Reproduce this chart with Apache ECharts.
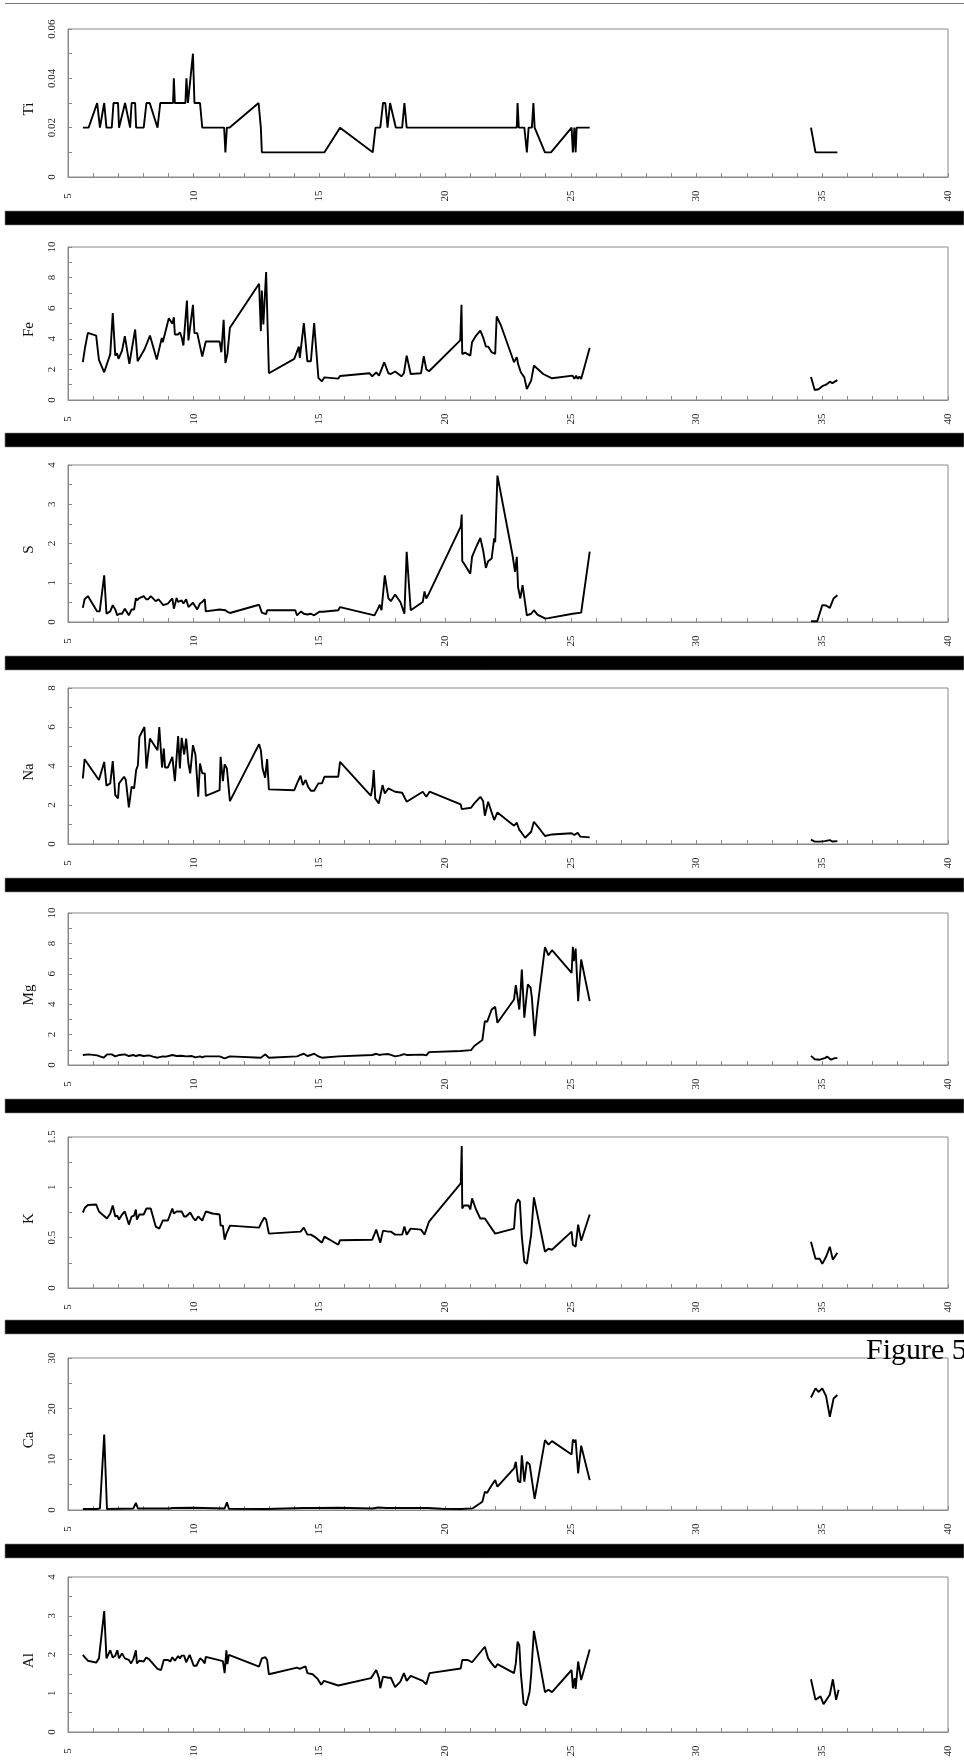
<!DOCTYPE html>
<html>
<head>
<meta charset="utf-8">
<script src="https://cdn.jsdelivr.net/npm/echarts@6/dist/echarts.min.js"></script>
<style>
  html, body { margin: 0; padding: 0; background: #fff; }
  #chart { width: 964px; height: 1764px; }
</style>
</head>
<body>
<div id="chart"></div>
<script>
// Element concentration profiles against depth: [depth, value]
// The upper section runs ~5.6–25.8, the deep section ~34.5–35.6.

const ti = [[5.59,0.02],[5.82,0.02],[6.16,0.03],[6.27,0.02],[6.44,0.03],[6.53,0.02],[6.74,0.02],[6.81,0.03],[6.99,0.03],[7.03,0.02],[7.27,0.03],[7.47,0.02],[7.53,0.03],[7.67,0.03],[7.71,0.02],[8.01,0.02],[8.12,0.03],[8.25,0.03],[8.56,0.02],[8.67,0.03],[9.18,0.03],[9.21,0.04],[9.25,0.03],[9.67,0.03],[9.71,0.04],[9.77,0.03],[9.97,0.05],[10.03,0.03],[10.25,0.03],[10.34,0.02],[11.21,0.02],[11.26,0.01],[11.32,0.02],[11.42,0.02],[12.58,0.03],[12.63,0.03],[12.67,0.02],[12.71,0.01],[15.2,0.01],[15.82,0.02],[17.12,0.01],[17.19,0.01],[17.23,0.02],[17.42,0.02],[17.53,0.03],[17.62,0.03],[17.71,0.02],[17.81,0.03],[18.04,0.02],[18.29,0.02],[18.38,0.03],[18.47,0.02],[22.85,0.02],[22.88,0.03],[22.93,0.02],[23.15,0.02],[23.25,0.01],[23.32,0.02],[23.45,0.02],[23.51,0.03],[23.56,0.02],[23.97,0.01],[24.21,0.01],[25.03,0.02],[25.08,0.01],[25.14,0.02],[25.19,0.01],[25.23,0.02],[25.75,0.02]];
const tiDeep = [[34.55,0.02],[34.73,0.01],[35.6,0.01]];

const fe = [[5.59,2.47],[5.68,3.45],[5.79,4.39],[6.12,4.21],[6.23,2.62],[6.44,1.81],[6.68,3.0],[6.78,5.68],[6.88,2.9],[6.95,3.06],[7.01,2.69],[7.15,3.23],[7.26,4.17],[7.44,2.36],[7.51,2.36],[7.67,4.61],[7.77,2.53],[7.84,2.58],[8.04,3.3],[8.11,3.3],[8.26,4.21],[8.53,2.64],[8.73,4.06],[8.77,3.78],[9.01,5.35],[9.15,4.98],[9.21,5.41],[9.25,4.28],[9.38,4.28],[9.45,4.43],[9.52,4.1],[9.59,3.56],[9.66,3.56],[9.73,6.5],[9.79,3.89],[9.86,3.89],[9.97,6.22],[10.03,4.37],[10.14,4.37],[10.21,4.43],[10.34,2.84],[10.48,3.82],[11.03,3.82],[11.1,3.12],[11.19,5.24],[11.26,2.42],[11.34,3.01],[11.44,4.72],[12.6,7.6],[12.67,4.5],[12.71,7.16],[12.77,4.93],[12.88,8.36],[12.99,1.75],[14.0,2.69],[14.18,3.49],[14.22,2.75],[14.38,5.02],[14.52,2.53],[14.66,2.53],[14.79,5.02],[14.96,1.44],[15.1,1.22],[15.2,1.48],[15.75,1.4],[15.82,1.57],[16.99,1.75],[17.1,1.55],[17.26,1.81],[17.37,1.59],[17.58,2.47],[17.74,1.75],[17.84,1.7],[18.01,1.86],[18.26,1.55],[18.36,1.75],[18.47,2.9],[18.63,1.7],[19.04,1.75],[19.15,2.86],[19.25,2.01],[19.36,1.88],[20.6,3.9],[20.65,6.22],[20.68,3.0],[20.79,3.1],[21.0,2.9],[21.07,3.78],[21.23,4.21],[21.4,4.54],[21.51,4.1],[21.62,3.49],[21.71,3.49],[21.85,3.12],[21.99,3.01],[22.05,5.46],[22.22,4.87],[22.74,2.47],[22.85,2.8],[22.9,2.36],[23.01,1.81],[23.08,1.88],[23.15,1.48],[23.25,0.72],[23.42,1.27],[23.53,2.25],[23.9,1.7],[24.25,1.42],[25.07,1.59],[25.14,1.38],[25.21,1.59],[25.27,1.38],[25.34,1.53],[25.41,1.38],[25.75,3.41]];
const feDeep = [[34.55,1.5],[34.7,0.65],[34.85,0.7],[35.0,0.9],[35.15,1.0],[35.3,1.2],[35.4,1.1],[35.6,1.3]];

const s = [[5.59,0.36],[5.66,0.58],[5.79,0.66],[6.16,0.27],[6.26,0.27],[6.44,1.19],[6.53,0.21],[6.68,0.27],[6.78,0.43],[6.88,0.32],[6.96,0.17],[7.05,0.21],[7.15,0.21],[7.26,0.34],[7.42,0.17],[7.53,0.32],[7.63,0.32],[7.7,0.61],[7.74,0.55],[7.84,0.61],[8.01,0.66],[8.11,0.58],[8.19,0.58],[8.29,0.66],[8.49,0.53],[8.6,0.58],[8.79,0.43],[8.97,0.47],[9.15,0.6],[9.21,0.34],[9.32,0.61],[9.38,0.51],[9.52,0.55],[9.59,0.47],[9.7,0.58],[9.79,0.38],[9.97,0.49],[10.14,0.32],[10.25,0.47],[10.34,0.51],[10.44,0.58],[10.48,0.27],[11.03,0.32],[11.1,0.27],[11.26,0.3],[11.34,0.26],[11.44,0.23],[12.6,0.44],[12.71,0.24],[12.88,0.2],[12.92,0.3],[14.04,0.3],[14.11,0.17],[14.27,0.27],[14.38,0.21],[14.52,0.19],[14.66,0.21],[14.79,0.17],[15.0,0.26],[15.14,0.26],[15.2,0.28],[15.75,0.3],[15.82,0.38],[17.19,0.17],[17.23,0.13],[17.33,0.34],[17.4,0.44],[17.47,0.3],[17.6,1.19],[17.74,0.61],[17.84,0.53],[18.01,0.7],[18.22,0.51],[18.38,0.21],[18.47,1.79],[18.63,0.3],[19.11,0.51],[19.18,0.78],[19.25,0.6],[19.32,0.68],[20.62,2.43],[20.66,2.74],[20.68,1.55],[20.75,1.49],[21.0,1.23],[21.07,1.66],[21.23,1.91],[21.4,2.14],[21.51,1.83],[21.62,1.38],[21.71,1.55],[21.85,1.62],[21.95,2.13],[21.99,2.03],[22.08,3.73],[22.67,1.74],[22.78,1.28],[22.85,1.66],[22.9,0.89],[22.99,0.6],[23.08,0.94],[23.15,0.89],[23.25,0.17],[23.42,0.21],[23.53,0.3],[23.67,0.19],[23.97,0.09],[24.11,0.1],[25.07,0.21],[25.14,0.17],[25.41,0.24],[25.75,1.79]];
const sDeep = [[34.55,0.02],[34.8,0.02],[35.0,0.43],[35.15,0.42],[35.3,0.36],[35.45,0.6],[35.6,0.68]];

const na = [[5.59,3.36],[5.66,4.35],[6.23,3.28],[6.44,4.21],[6.53,2.99],[6.68,3.11],[6.78,4.25],[6.88,2.51],[6.99,2.34],[7.03,3.11],[7.23,3.45],[7.3,3.28],[7.42,1.88],[7.53,2.94],[7.63,2.85],[7.71,3.79],[7.78,4.04],[7.84,5.49],[8.04,6.0],[8.12,3.87],[8.26,5.41],[8.56,4.81],[8.63,6.0],[8.74,3.92],[8.81,4.9],[8.86,3.92],[8.97,3.92],[9.15,4.47],[9.25,3.22],[9.38,5.53],[9.45,3.87],[9.52,5.44],[9.62,4.59],[9.7,5.41],[9.79,4.13],[9.86,3.62],[9.93,3.53],[9.97,5.07],[10.07,4.56],[10.18,2.42],[10.25,4.13],[10.34,3.62],[10.44,3.62],[10.48,2.47],[11.03,2.76],[11.07,4.47],[11.16,3.22],[11.23,4.08],[11.32,3.87],[11.44,2.2],[12.6,5.12],[12.67,4.81],[12.74,3.87],[12.84,3.4],[12.92,4.35],[12.99,2.8],[14.0,2.76],[14.11,3.11],[14.25,3.5],[14.34,3.02],[14.45,3.28],[14.55,2.94],[14.66,2.73],[14.79,2.73],[14.96,3.11],[15.1,3.11],[15.2,3.45],[15.75,3.45],[15.82,4.21],[17.05,2.47],[17.12,3.02],[17.16,3.79],[17.22,2.34],[17.36,2.08],[17.51,3.02],[17.6,2.59],[17.74,2.85],[17.81,2.8],[18.01,2.68],[18.29,2.63],[18.47,2.17],[19.11,2.68],[19.25,2.42],[19.38,2.68],[20.62,2.03],[20.66,1.79],[21.03,1.86],[21.16,2.08],[21.4,2.42],[21.51,2.2],[21.58,1.45],[21.71,2.17],[21.95,1.23],[22.08,1.62],[22.74,0.94],[22.85,1.09],[22.95,0.72],[23.04,0.58],[23.18,0.32],[23.42,0.63],[23.53,1.14],[23.79,0.72],[23.97,0.41],[24.25,0.49],[25.03,0.55],[25.14,0.46],[25.27,0.58],[25.37,0.38],[25.75,0.34]];
const naDeep = [[34.55,0.22],[34.7,0.12],[34.9,0.12],[35.1,0.15],[35.3,0.2],[35.4,0.13],[35.6,0.15]];

const mg = [[5.59,0.66],[5.82,0.7],[6.16,0.63],[6.41,0.48],[6.56,0.7],[6.74,0.7],[6.88,0.57],[7.05,0.66],[7.26,0.7],[7.42,0.59],[7.6,0.66],[7.7,0.59],[7.84,0.66],[8.01,0.59],[8.22,0.63],[8.38,0.55],[8.56,0.48],[8.77,0.57],[8.9,0.55],[9.15,0.66],[9.32,0.59],[9.52,0.61],[9.7,0.57],[9.93,0.59],[10.07,0.5],[10.25,0.57],[10.34,0.5],[10.44,0.57],[11.03,0.57],[11.23,0.44],[11.44,0.57],[12.67,0.48],[12.85,0.7],[12.99,0.48],[14.11,0.57],[14.25,0.66],[14.38,0.74],[14.52,0.59],[14.66,0.66],[14.79,0.74],[14.96,0.57],[15.1,0.48],[15.75,0.57],[15.82,0.66],[17.1,0.66],[17.26,0.74],[17.37,0.66],[17.53,0.7],[17.74,0.72],[17.84,0.66],[18.01,0.57],[18.22,0.63],[18.36,0.72],[18.47,0.66],[19.11,0.68],[19.18,0.57],[19.25,0.63],[19.36,0.85],[20.62,0.92],[20.68,1.0],[21.03,0.98],[21.16,1.25],[21.48,1.64],[21.58,2.89],[21.67,2.84],[21.85,3.65],[21.99,3.83],[22.08,2.78],[22.74,4.31],[22.81,5.25],[22.85,5.14],[22.95,3.65],[23.01,5.12],[23.05,6.28],[23.08,6.35],[23.15,3.11],[23.25,4.75],[23.29,5.3],[23.4,5.08],[23.45,4.42],[23.56,1.9],[23.67,3.76],[23.97,7.75],[24.11,7.22],[24.25,7.55],[25.03,6.06],[25.08,7.77],[25.12,6.83],[25.19,7.66],[25.29,4.2],[25.41,6.94],[25.75,4.2]];
const mgDeep = [[34.55,0.6],[34.7,0.38],[34.9,0.35],[35.1,0.45],[35.2,0.55],[35.35,0.35],[35.5,0.45],[35.6,0.45]];

const k = [[5.59,0.75],[5.68,0.8],[5.79,0.825],[6.12,0.83],[6.23,0.76],[6.55,0.69],[6.68,0.74],[6.78,0.82],[6.88,0.71],[6.96,0.72],[7.03,0.68],[7.15,0.73],[7.26,0.76],[7.42,0.63],[7.53,0.71],[7.63,0.72],[7.7,0.78],[7.74,0.68],[7.84,0.73],[8.01,0.73],[8.12,0.79],[8.29,0.79],[8.49,0.61],[8.63,0.59],[8.77,0.67],[8.97,0.67],[9.15,0.79],[9.21,0.74],[9.32,0.76],[9.52,0.76],[9.62,0.71],[9.7,0.71],[9.86,0.75],[9.97,0.7],[10.07,0.67],[10.18,0.71],[10.25,0.71],[10.34,0.67],[10.48,0.76],[10.75,0.74],[11.03,0.73],[11.07,0.62],[11.16,0.62],[11.23,0.48],[11.3,0.54],[11.37,0.54],[11.44,0.62],[12.6,0.6],[12.67,0.64],[12.74,0.67],[12.81,0.7],[12.88,0.68],[12.99,0.54],[14.25,0.56],[14.38,0.6],[14.52,0.53],[14.66,0.53],[14.86,0.5],[15.1,0.45],[15.2,0.51],[15.75,0.43],[15.82,0.475],[17.1,0.48],[17.26,0.58],[17.42,0.45],[17.53,0.57],[17.74,0.56],[17.84,0.56],[18.01,0.53],[18.29,0.53],[18.38,0.61],[18.47,0.53],[18.63,0.59],[19.04,0.58],[19.18,0.53],[19.36,0.66],[20.62,1.04],[20.66,1.41],[20.68,0.79],[20.75,0.82],[20.93,0.82],[21.0,0.78],[21.07,0.89],[21.23,0.78],[21.4,0.69],[21.58,0.69],[21.99,0.54],[22.74,0.59],[22.81,0.83],[22.9,0.88],[22.97,0.86],[23.05,0.51],[23.15,0.26],[23.25,0.24],[23.42,0.53],[23.53,0.9],[23.97,0.36],[24.11,0.39],[24.25,0.38],[25.03,0.56],[25.08,0.43],[25.19,0.41],[25.29,0.63],[25.41,0.47],[25.75,0.73]];
const kDeep = [[34.55,0.46],[34.73,0.29],[34.9,0.29],[35.0,0.24],[35.15,0.31],[35.3,0.41],[35.42,0.28],[35.6,0.35]];

const ca = [[5.59,0.2],[6.16,0.2],[6.27,0.33],[6.44,14.9],[6.55,0.2],[7.6,0.3],[7.7,1.4],[7.78,0.3],[9.04,0.3],[9.15,0.4],[9.97,0.45],[11.23,0.3],[11.32,1.5],[11.4,0.25],[12.88,0.2],[14.38,0.4],[14.93,0.4],[15.75,0.45],[17.12,0.3],[17.33,0.5],[17.4,0.3],[17.67,0.4],[18.63,0.4],[19.32,0.4],[19.86,0.25],[20.62,0.2],[21.1,0.33],[21.48,1.64],[21.58,3.6],[21.67,3.4],[21.85,4.9],[21.99,5.9],[22.08,4.6],[22.74,8.2],[22.81,9.5],[22.85,9.5],[22.9,5.7],[22.99,5.45],[23.05,10.8],[23.08,10.8],[23.15,5.6],[23.25,9.5],[23.36,9.0],[23.56,2.2],[23.97,13.8],[24.11,12.9],[24.25,13.6],[25.03,10.96],[25.08,13.9],[25.15,13.3],[25.19,13.9],[25.29,7.2],[25.41,12.7],[25.75,5.9]];
const caDeep = [[34.55,22.2],[34.73,24.0],[34.85,23.3],[35.0,24.0],[35.15,22.5],[35.3,18.4],[35.45,22.0],[35.6,22.7]];

const al = [[5.59,1.99],[5.68,1.92],[5.79,1.84],[6.12,1.79],[6.23,1.9],[6.44,3.12],[6.53,1.9],[6.68,2.11],[6.78,1.92],[6.88,1.97],[6.96,2.11],[7.03,1.9],[7.15,2.03],[7.26,1.9],[7.42,1.86],[7.51,1.77],[7.6,1.88],[7.7,2.11],[7.74,1.77],[7.84,1.84],[8.01,1.82],[8.11,1.92],[8.22,1.88],[8.42,1.73],[8.56,1.63],[8.7,1.6],[8.81,1.86],[8.97,1.86],[9.07,1.82],[9.15,1.93],[9.25,1.84],[9.38,1.96],[9.45,1.9],[9.52,1.97],[9.62,1.97],[9.7,1.8],[9.84,1.99],[9.9,1.94],[10.0,1.71],[10.11,1.71],[10.25,1.9],[10.34,1.86],[10.44,1.77],[10.48,1.94],[11.16,1.83],[11.23,1.52],[11.3,2.11],[11.34,1.75],[11.4,1.99],[12.6,1.69],[12.71,1.9],[12.85,1.93],[12.92,1.86],[12.99,1.49],[14.11,1.66],[14.22,1.63],[14.32,1.66],[14.38,1.63],[14.45,1.69],[14.52,1.52],[14.73,1.49],[14.93,1.37],[15.07,1.22],[15.18,1.32],[15.75,1.2],[17.05,1.39],[17.12,1.34],[17.26,1.6],[17.37,1.39],[17.42,1.13],[17.53,1.43],[17.74,1.4],[17.84,1.4],[18.01,1.16],[18.22,1.3],[18.36,1.52],[18.47,1.32],[18.63,1.45],[19.11,1.32],[19.25,1.23],[19.38,1.52],[20.62,1.64],[20.68,1.86],[20.89,1.86],[21.07,1.8],[21.58,2.2],[21.71,1.9],[21.85,1.77],[21.99,1.66],[22.08,1.75],[22.74,1.52],[22.81,1.77],[22.88,2.33],[22.95,2.24],[23.01,1.52],[23.12,0.74],[23.22,0.68],[23.36,1.04],[23.42,1.47],[23.53,2.61],[23.97,1.03],[24.11,1.09],[24.25,1.03],[25.03,1.6],[25.08,1.13],[25.15,1.39],[25.19,1.11],[25.29,1.82],[25.41,1.34],[25.75,2.13]];
const alDeep = [[34.55,1.36],[34.73,0.83],[34.93,0.92],[35.05,0.72],[35.3,0.96],[35.42,1.36],[35.55,0.83],[35.65,1.09]];

// Panel definitions: name, profiles, y-axis range and label step
const elementNames = ['Ti', 'Fe', 'S', 'Na', 'Mg', 'K', 'Ca', 'Al'];
const upperSets = [ti, fe, s, na, mg, k, ca, al];
const deepSets = [tiDeep, feDeep, sDeep, naDeep, mgDeep, kDeep, caDeep, alDeep];
const yMax = [0.06, 10, 4, 8, 10, 1.5, 30, 4];
const yStep = [0.02, 2, 1, 2, 2, 0.5, 10, 1];

// Depth axis
const depthMin = 5, depthMax = 40, depthStep = 5;

// Panel layout (pixels)
const panelTop = [29, 247, 465, 688, 913, 1137, 1358, 1577];
const panelHeight = [148, 153, 157, 156, 152, 151, 152, 155];
const barTop = [211, 433, 656, 878, 1099, 1320, 1544];

const FONT = '"Liberation Serif", "Times New Roman", serif';
const AXIS_GREY = '#8a8a8a';

const grids = [], xAxes = [], yAxes = [], series = [];
elementNames.forEach((name, i) => {
  grids.push({
    left: 68, width: 880, top: panelTop[i], height: panelHeight[i],
    show: true, borderColor: AXIS_GREY, borderWidth: 1, backgroundColor: '#fff'
  });
  xAxes.push({
    type: 'value', gridIndex: i, min: depthMin, max: depthMax, interval: depthStep,
    axisLine: { lineStyle: { color: AXIS_GREY, width: 1 } },
    axisTick: { inside: true, length: 4, lineStyle: { color: AXIS_GREY } },
    minorTick: { show: true, splitNumber: 5, length: 4, lineStyle: { color: AXIS_GREY } },
    splitLine: { show: false },
    axisLabel: {
      rotate: 90, align: 'center', verticalAlign: 'middle', margin: 19,
      fontFamily: FONT, fontSize: 11, color: '#222'
    }
  });
  yAxes.push({
    type: 'value', gridIndex: i, min: 0, max: yMax[i], interval: yStep[i],
    name: name, nameLocation: 'middle', nameGap: 31, nameRotate: 90,
    // extra trailing padding drops the rotated title a few pixels below centre
    nameTextStyle: { fontFamily: FONT, fontSize: 15, color: '#111', padding: [0, 12, 0, 0] },
    axisLine: { show: true, lineStyle: { color: AXIS_GREY, width: 1 } },
    axisTick: { show: true, inside: true, length: 4, lineStyle: { color: AXIS_GREY } },
    minorTick: { show: true, splitNumber: 2, length: 4, lineStyle: { color: AXIS_GREY } },
    splitLine: { show: false },
    axisLabel: {
      rotate: 90, margin: 10,
      fontFamily: FONT, fontSize: 11, color: '#222',
      formatter: v => String(Math.round(v * 1000) / 1000)
    }
  });
  [upperSets[i], deepSets[i]].forEach(data => {
    series.push({
      type: 'line', xAxisIndex: i, yAxisIndex: i, data: data,
      symbol: 'none', showSymbol: false, silent: true,
      lineStyle: { color: '#000', width: 1.9 }
    });
  });
});

const graphics = [
  { type: 'line', z: 100, shape: { x1: 5, y1: 3.5, x2: 964, y2: 3.5 },
    style: { stroke: '#777', lineWidth: 1 } }
];
barTop.forEach(y => {
  graphics.push({ type: 'rect', z: 100, shape: { x: 5, y: y, width: 959, height: 14 },
    style: { fill: '#000', stroke: '#888', lineWidth: 0.6 } });
});
// caption runs slightly past the right edge of the page
graphics.push({
  type: 'text', z: 200, x: 866, y: 1336,
  style: { text: 'Figure 5', font: '30px ' + FONT, fill: '#000', verticalAlign: 'top' }
});

const chart = echarts.init(document.getElementById('chart'), null, { renderer: 'canvas' });
chart.setOption({
  animation: false,
  backgroundColor: '#fff',
  grid: grids,
  xAxis: xAxes,
  yAxis: yAxes,
  series: series,
  graphic: graphics
});
</script>
</body>
</html>
